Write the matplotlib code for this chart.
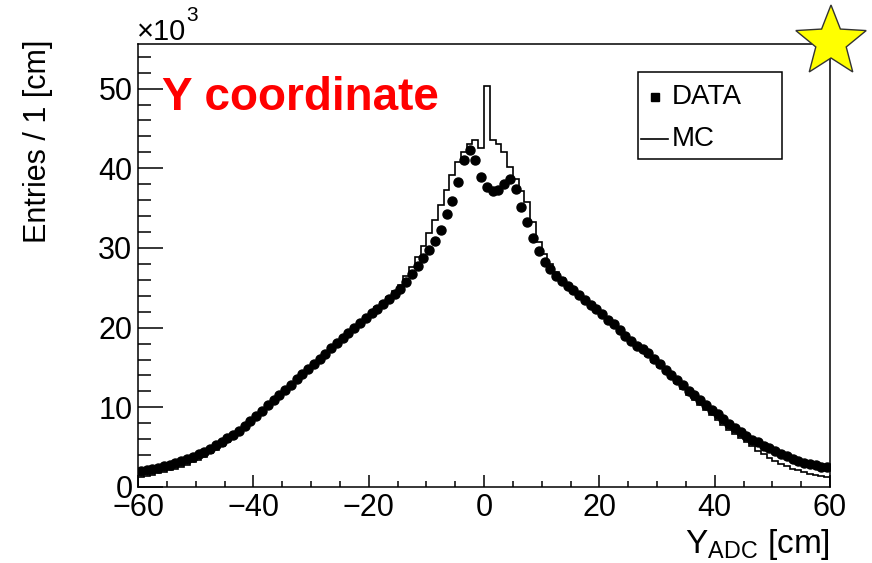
import numpy as np
import matplotlib
matplotlib.use("Agg")
import matplotlib.pyplot as plt
from matplotlib.patches import Rectangle, Polygon
from matplotlib.lines import Line2D
from matplotlib.ticker import MultipleLocator

plt.rcParams['font.family'] = ['Liberation Sans', 'DejaVu Sans']
plt.rcParams['mathtext.fontset'] = 'custom'
plt.rcParams['mathtext.rm'] = 'Liberation Sans'
plt.rcParams['mathtext.it'] = 'Liberation Sans:italic'

# Histogram binning: 1 cm bins from -60 to 60 cm
bin_edges = np.arange(-60, 61, 1)
bin_centers = bin_edges[:-1] + 0.5

# Measured entries per bin (x10^3)
data_counts = [
    2.00, 2.12, 2.25, 2.40, 2.58, 2.78, 3.00, 3.24, 3.50, 3.78,
    4.10, 4.45, 4.82, 5.22, 5.65, 6.10, 6.58, 7.05, 7.62, 8.30,
    8.95, 9.60, 10.25, 10.90, 11.55, 12.20, 12.85, 13.50, 14.15, 14.80,
    15.45, 16.10, 16.75, 17.40, 18.05, 18.70, 19.35, 20.00, 20.60, 21.20,
    21.80, 22.40, 23.00, 23.60, 24.20, 24.90, 25.70, 26.70, 27.80, 28.80,
    29.80, 30.90, 32.30, 34.30, 35.90, 38.30, 41.00, 42.30, 41.00, 38.90,
    37.70, 37.10, 37.30, 38.00, 38.60, 37.40, 35.10, 33.30, 31.30, 29.60,
    28.30, 27.30, 26.50, 25.80, 25.20, 24.70, 24.10, 23.50, 22.90, 22.30,
    21.70, 21.00, 20.40, 19.70, 19.00, 18.30, 17.70, 17.30, 16.80, 16.10,
    15.40, 14.70, 14.00, 13.40, 12.80, 12.10, 11.50, 10.90, 10.30, 9.70,
    9.10, 8.50, 7.95, 7.40, 6.90, 6.40, 5.95, 5.60, 5.20, 4.85,
    4.50, 4.15, 3.85, 3.55, 3.30, 3.05, 2.85, 2.70, 2.55, 2.45,
]

# Simulated entries per bin (x10^3)
mc_counts = [
    1.30, 1.42, 1.55, 1.70, 1.88, 2.08, 2.30, 2.55, 2.82, 3.12,
    3.45, 3.82, 4.22, 4.66, 5.12, 5.62, 6.15, 6.70, 7.30, 7.95,
    8.65, 9.35, 10.05, 10.75, 11.45, 12.15, 12.85, 13.50, 14.20, 14.85,
    15.50, 16.15, 16.80, 17.45, 18.10, 18.75, 19.40, 20.05, 20.70, 21.30,
    21.95, 22.55, 23.20, 23.85, 24.55, 25.40, 26.50, 27.60, 28.90, 30.30,
    31.90, 33.50, 35.40, 37.30, 39.20, 40.80, 42.10, 43.00, 43.50, 42.50,
    50.30, 43.60, 43.10, 42.00, 40.10, 38.70, 37.20, 35.80, 33.30, 30.80,
    29.20, 28.00, 27.00, 26.20, 25.50, 24.90, 24.30, 23.70, 23.10, 22.50,
    21.85, 21.20, 20.55, 19.90, 19.20, 18.50, 17.80, 17.10, 16.40, 15.75,
    15.10, 14.40, 13.70, 13.00, 12.30, 11.60, 10.95, 10.30, 9.65, 9.00,
    8.40, 7.80, 7.20, 6.65, 6.10, 5.60, 5.10, 4.55, 4.10, 3.65,
    3.25, 2.90, 2.60, 2.32, 2.08, 1.87, 1.68, 1.50, 1.35, 1.20,
]

x_ticks = [-60, -40, -20, 0, 20, 40, 60]
y_ticks = [0, 10, 20, 30, 40, 50]

W, H = 872, 563
fig = plt.figure(figsize=(W / 100, H / 100), dpi=100)


def fx(px):
    return px / W


def fy(py):
    return 1 - py / H


ax = fig.add_axes([fx(138), fy(487), fx(830) - fx(138), fy(44) - fy(487)])

ax.stairs(mc_counts, bin_edges, color='black', linewidth=1.2, zorder=2)
ax.plot(bin_centers, data_counts, linestyle='none', marker='o', markersize=6.5,
        color='black', zorder=3)

ax.set_xlim(-60, 60)
ax.set_ylim(0, 55.6)
ax.set_xticks(x_ticks)
ax.set_yticks(y_ticks)
ax.xaxis.set_minor_locator(MultipleLocator(5))
ax.yaxis.set_minor_locator(MultipleLocator(2))
ax.tick_params(axis='both', which='both', direction='in', width=1.1,
               top=False, right=False, labelsize=22)
ax.tick_params(axis='y', which='major', length=18, pad=4)
ax.tick_params(axis='y', which='minor', length=9)
ax.tick_params(axis='x', which='major', length=8.5, pad=4)
ax.tick_params(axis='x', which='minor', length=4.5)
for sp in ax.spines.values():
    sp.set_linewidth(1.1)

# Axis titles
fig.text(fx(38), fy(40), 'Entries / 1 [cm]', rotation=90, ha='center',
         va='top', fontsize=22)
fig.text(fx(830), fy(553), r'Y$_{\mathrm{ADC}}$ [cm]', ha='right',
         va='baseline', fontsize=24)
fig.text(fx(137), fy(40), '\u00d710', ha='left', va='baseline', fontsize=21)
fig.text(fx(186), fy(21), '3', ha='left', va='baseline', fontsize=15)

# Panel title
fig.text(fx(162), fy(110), 'Y coordinate', color='#ff0000', fontweight='bold',
         fontsize=33, ha='left', va='baseline')

# Legend box
fig.add_artist(Rectangle((fx(638), fy(159)), fx(782) - fx(638), fy(72) - fy(159),
                         transform=fig.transFigure, facecolor='white',
                         edgecolor='black', linewidth=1.1, zorder=5))
fig.add_artist(Line2D([fx(655)], [fy(97)], marker='s', markersize=6,
                      color='black', linestyle='none',
                      transform=fig.transFigure, zorder=6))
fig.add_artist(Line2D([fx(641), fx(668)], [fy(139), fy(139)], color='black',
                      linewidth=1.2, transform=fig.transFigure, zorder=6))
fig.text(fx(672), fy(97), 'DATA', ha='left', va='center', fontsize=20, zorder=7)
fig.text(fx(672), fy(139), 'MC', ha='left', va='center', fontsize=20, zorder=7)

# Yellow star marker in the corner
cx, cy, r_out, r_in = 831, 42, 37, 16
pts = []
for k in range(10):
    ang = np.pi / 2 + k * np.pi / 5
    r = r_out if k % 2 == 0 else r_in
    pts.append((fx(cx + r * np.cos(ang)), fy(cy - r * np.sin(ang))))
fig.add_artist(Polygon(pts, closed=True, facecolor='#ffff00', edgecolor='#333333',
                       linewidth=1.0, transform=fig.transFigure, zorder=8))

fig.savefig('out.png', dpi=100)
